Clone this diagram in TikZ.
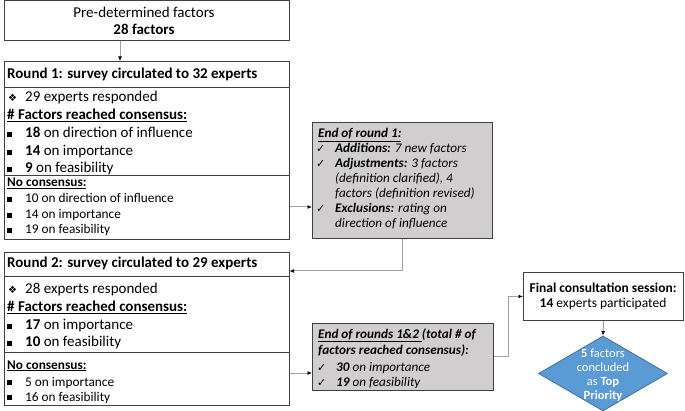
\documentclass[tikz,border=0pt]{standalone}
\usepackage{fontspec}
\setmainfont{Carlito}
\newfontfamily\dv{DejaVu Sans}
\usetikzlibrary{arrows.meta,shapes.geometric,calc}
\definecolor{grayfill}{HTML}{D0CECE}
\definecolor{boxc}{HTML}{404040}
\definecolor{connc}{HTML}{A0A0A0}
\definecolor{diafill}{HTML}{5B9BD5}
\definecolor{diaedge}{HTML}{41719C}
\newcommand\sqb{\rule[1.4pt]{4.6pt}{4.6pt}}
\newcommand\bl[1]{\makebox[#1][l]{\sqb}}
\newcommand\dia{\makebox[17pt][l]{{\dv\fontsize{10}{10}\selectfont ❖}}}
\newcommand\ck{\makebox[19pt][l]{{\dv\fontsize{11}{11}\selectfont ✓}}}
\begin{document}
\begin{tikzpicture}[x=1pt,y=-1pt,
  box/.style={draw=boxc, line width=1pt, anchor=north west, inner sep=0pt, fill=white},
  gbox/.style={box, fill=grayfill},
  tl/.style={anchor=base west, inner sep=0pt, font=\fontsize{15}{18}\selectfont},
  ts/.style={anchor=base west, inner sep=0pt, font=\fontsize{13.3}{16}\selectfont},
  tg/.style={anchor=base west, inner sep=0pt, font=\fontsize{13.2}{15}\selectfont\itshape},
  tc/.style={anchor=base, inner sep=0pt, font=\fontsize{13.5}{16}\selectfont},
  td/.style={anchor=base, inner sep=0pt, text=white, font=\fontsize{12.5}{14}\selectfont},
  sep/.style={draw=boxc, line width=1pt},
  conn/.style={draw=connc, line width=1pt, -{Latex[length=4.5pt,width=4pt,color=black]}}
]
\useasboundingbox (0,0) rectangle (685,411);

% top box
\node[box, minimum width=285, minimum height=40] (pre) at (3.5,0.5) {};
\node[tl, anchor=base] (pre1) at (144,18) {Pre-determined factors};
\node[tl, anchor=base] (pre2) at (144,35) {\textbf{28 factors}};

% round 1
\node[box, minimum width=285, minimum height=178] (r1) at (3.5,61) {};
\draw[sep] (r1.west |- 0,88) -- (r1.east |- 0,88);
\draw[sep] (r1.west |- 0,176) -- (r1.east |- 0,176);
\node[tl] (r1t) at (7,79) {\textbf{Round 1: survey circulated to 32 experts}};
\node[tl] (r1a) at (8,102) {\dia 29 experts responded};
\node[tl] (r1b) at (7,120) {\textbf{\underline{\# Factors reached consensus:}}};
\node[tl] (r1c) at (7,138) {\bl{18pt}\textbf{18} on direction of influence};
\node[tl] (r1d) at (7,156) {\bl{18pt}\textbf{14} on importance};
\node[tl] (r1e) at (7,173) {\bl{18pt}\textbf{9} on feasibility};
\node[ts] (r1f) at (7,187) {\textbf{\underline{No consensus:}}};
\node[ts] (r1g) at (7,203) {\bl{18pt}10 on direction of influence};
\node[ts] (r1h) at (7,219) {\bl{18pt}14 on importance};
\node[ts] (r1i) at (7,234) {\bl{18pt}19 on feasibility};

% end of round 1
\node[gbox, minimum width=180, minimum height=116] (g1) at (312,122) {};
\node[tg] (g1a) at (318,138) {\textbf{\underline{End of round 1:}}};
\node[tg] (g1b) at (316,153) {\ck\textbf{Additions:} 7 new factors};
\node[tg] (g1c) at (316,168) {\ck\textbf{Adjustments:} 3 factors};
\node[tg] (g1d) at (335,183) {(definition clarified), 4};
\node[tg] (g1e) at (335,198) {factors (definition revised)};
\node[tg] (g1f) at (316,213) {\ck\textbf{Exclusions:} rating on};
\node[tg] (g1g) at (335,228) {direction of influence};

% round 2
\node[box, minimum width=285, minimum height=153] (r2) at (3.5,252) {};
\draw[sep] (r2.west |- 0,277) -- (r2.east |- 0,277);
\draw[sep] (r2.west |- 0,353) -- (r2.east |- 0,353);
\node[tl] (r2t) at (7,268) {\textbf{Round 2: survey circulated to 29 experts}};
\node[tl] (r2a) at (8,294) {\dia 28 experts responded};
\node[tl] (r2b) at (7,312) {\textbf{\underline{\# Factors reached consensus:}}};
\node[tl] (r2c) at (7,330) {\bl{18pt}\textbf{17} on importance};
\node[tl] (r2d) at (7,347) {\bl{18pt}\textbf{10} on feasibility};
\node[ts] (r2e) at (7,369) {\textbf{\underline{No consensus:}}};
\node[ts] (r2f) at (7,386) {\bl{18pt}5 on importance};
\node[ts] (r2g) at (7,401) {\bl{18pt}16 on feasibility};

% end of rounds 1&2
\node[gbox, minimum width=181, minimum height=67] (g2) at (312,323) {};
\node[tg] (g2a) at (318,338) {\textbf{\underline{End of rounds 1\&2 }(total \# of}};
\node[tg] (g2b) at (318,355) {\textbf{factors reached consensus):}};
\node[tg] (g2c) at (317,371) {\ck\textbf{30} on importance};
\node[tg] (g2d) at (317,386) {\ck\textbf{19} on feasibility};

% final
\node[box, minimum width=160, minimum height=48] (fin) at (523,272) {};
\node[tc] (fin1) at (603,293) {\textbf{Final consultation session:}};
\node[tc] (fin2) at (603,308) {\textbf{14} experts participated};

\node[draw=diaedge, fill=diafill, line width=0.8pt, diamond, minimum width=129, minimum height=75, inner sep=0pt] (dm) at (603,373.5) {};
\node[td] (dm1) at (603,357) {\textbf{5} factors};
\node[td] (dm2) at (603,371) {concluded};
\node[td] (dm3) at (603,385) {as \textbf{Top}};
\node[td] (dm4) at (603,399) {\textbf{Priority}};

% connectors
\coordinate (ax) at (120,0);
\coordinate (ay) at (0,207);
\coordinate (bx) at (402,0);
\coordinate (by) at (0,271);
\coordinate (cy) at (0,373);
\coordinate (dy) at (0,356);
\coordinate (dx) at (508,0);
\draw[conn] (pre.south -| ax) -- (r1.north -| ax);
\draw[conn] (r1.east |- ay) -- (g1.west |- ay);
\draw[conn] (g1.south -| bx) |- (r2.east |- by);
\draw[conn] (r2.east |- cy) -- (g2.west |- cy);
\draw[conn] (g2.east |- dy) -- (dx |- dy) |- (fin.west);
\draw[conn] (fin.south) -- (dm.north);
\end{tikzpicture}
\end{document}
